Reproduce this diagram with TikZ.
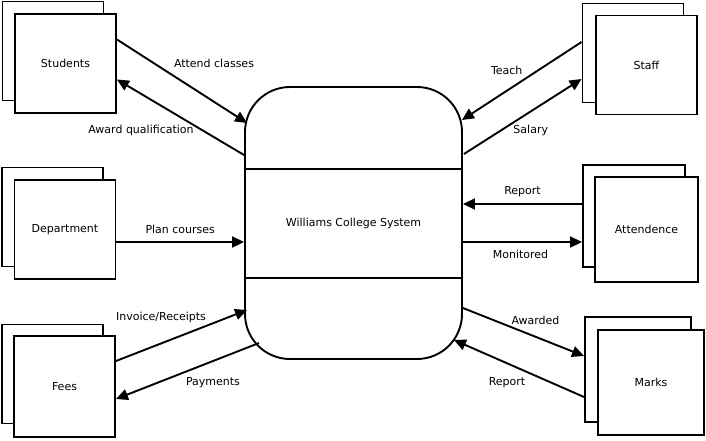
\documentclass[tikz,border=0pt]{standalone}
\usepackage{fontspec}
\setmainfont{DejaVu Sans}
\usetikzlibrary{arrows.meta}

\begin{document}
\begin{tikzpicture}[x=1pt,y=-1pt,line width=1.9pt,>={Triangle[length=12pt,width=11pt]},
	font=\fontsize{11}{13}\selectfont,
	entity/.style={draw,fill=white,minimum width=101pt,minimum height=99pt,inner sep=0pt},
	process/.style={draw,rounded corners=45pt,minimum width=217pt,minimum height=272pt}]
	\useasboundingbox (0,0) rectangle (706,440);
	\node[entity] (studentsb) at (53,51) {};
	\node[entity] (students) at (65.5,63.5) {Students};
	\node[entity] (deptb) at (52.5,217) {};
	\node[entity] (dept) at (65,229.5) {Department};
	\node[entity] (feesb) at (52.5,374) {};
	\node[entity,minimum height=101pt] (fees) at (64.5,386.5) {Fees};
	\node[entity] (staffb) at (633,53) {};
	\node[entity] (staff) at (646.5,65) {Staff};
	\node[entity,minimum width=102pt,minimum height=102pt] (attb) at (634,216) {};
	\node[entity,minimum width=103pt,minimum height=105pt] (att) at (646.5,229.5) {Attendence};
	\node[entity,minimum width=106pt,minimum height=105pt] (marksb) at (638,369.5) {};
	\node[entity,minimum width=106pt,minimum height=105pt] (marks) at (651,382.5) {Marks};
	\node[process] (sys) at (353.5,223) {Williams College System};
	\draw ([yshift=54pt]sys.west) -- ([yshift=54pt]sys.east);
	\draw ([yshift=-55pt]sys.west) -- ([yshift=-55pt]sys.east);
	\draw[->] ([yshift=24pt]students.east) -- ([xshift=3pt,yshift=100pt]sys.west) node[midway,xshift=32pt,yshift=17.5pt] {Attend classes};
	\draw[->] ([yshift=68pt]sys.west) -- ([yshift=-16pt]students.east) node[midway,xshift=-39.5pt,yshift=-13.5pt] {Award qualification};
	\draw[->] ([yshift=-12.5pt]dept.east) -- ([yshift=-19pt]sys.west) node[midway,yshift=13pt] {Plan courses};
	\draw[->] ([yshift=25.5pt]fees.east) -- ([xshift=3pt,yshift=-87pt]sys.west) node[midway,xshift=-20.5pt,yshift=18.5pt] {Invoice/Receipts};
	\draw[->] ([xshift=15pt,yshift=-120pt]sys.west) -- ([yshift=-12.5pt]fees.east) node[midway,xshift=25.5pt,yshift=-12pt] {Payments};
	\draw[->] ([yshift=11pt]staffb.west) -- ([xshift=-1pt,yshift=103pt]sys.east) node[midway,xshift=-15pt,yshift=11pt] {Teach};
	\draw[->] ([xshift=1pt,yshift=69pt]sys.east) -- ([yshift=-26pt]staffb.west) node[midway,xshift=8pt,yshift=-13.5pt] {Salary};
	\draw[->] ([yshift=12pt]attb.west) -- ([yshift=19pt]sys.east) node[midway,yshift=12pt] {Report};
	\draw[->] ([yshift=-19pt]sys.east) -- ([yshift=-26pt]attb.west) node[midway,xshift=-2pt,yshift=-12pt] {Monitored};
	\draw[->] ([yshift=-85pt]sys.east) -- ([yshift=13.5pt]marksb.west) node[midway,xshift=12pt,yshift=12pt] {Awarded};
	\draw[->] ([yshift=-27.5pt]marksb.west) -- ([xshift=-9pt,yshift=-117pt]sys.east) node[midway,xshift=-12pt,yshift=-14.5pt] {Report};
\end{tikzpicture}
\end{document}
